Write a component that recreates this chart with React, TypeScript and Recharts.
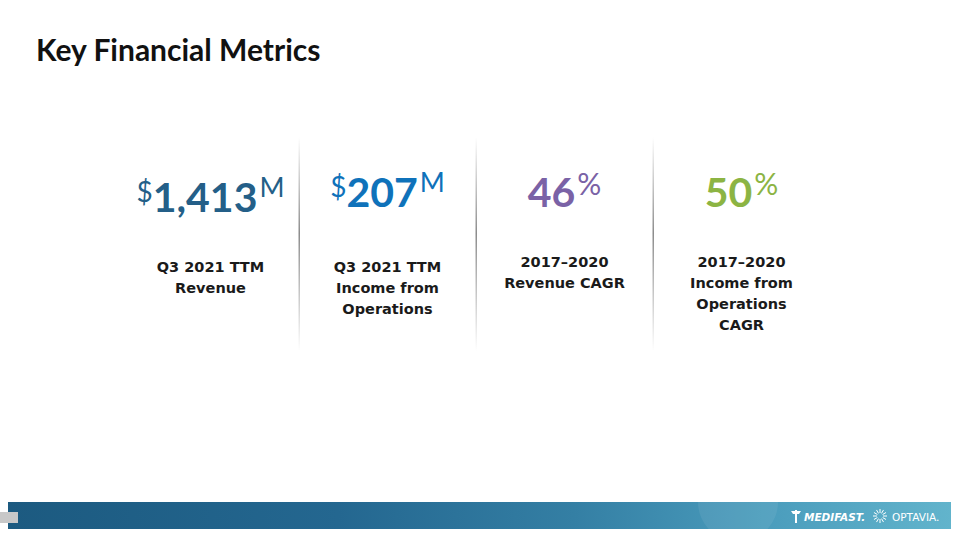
import { ComposedChart, Scatter, XAxis, YAxis } from "recharts";

// four KPI columns, left to right
const metricIds = [0, 1, 2, 3];
const metricValues = ["1,413", "207", "46", "50"];
const metricPrefixes = ["$", "$", "", ""];
const metricSuffixes = ["M", "M", "%", "%"];
const metricLabels = [
  ["Q3 2021 TTM", "Revenue"],
  ["Q3 2021 TTM", "Income from", "Operations"],
  ["2017–2020", "Revenue CAGR"],
  ["2017–2020", "Income from", "Operations", "CAGR"],
];
const metricColors = ["#245f88", "#0f72ba", "#7a62a6", "#8cb443"];

const data = metricIds.map((i) => ({
  idx: i,
  level: 1,
  value: metricValues[i],
  prefix: metricPrefixes[i],
  suffix: metricSuffixes[i],
  label: metricLabels[i],
  color: metricColors[i],
}));

const NUM_FONT = "Lato, 'Open Sans', sans-serif";
const LABEL_FONT = "'DejaVu Sans', sans-serif";

const MetricShape = (props: any) => {
  const { cx, cy, payload } = props;
  const i = payload.idx;
  const numBase = cy + (i === 0 ? 5 : 0);
  const labelBase = cy + (i < 2 ? 65 : 60);
  const isPct = payload.suffix === "%";
  return (
    <g>
      {i > 0 && (
        <g>
          <defs>
            <linearGradient id={`divider-${i}`} x1="0" y1="0" x2="0" y2="1">
              <stop offset="0%" stopColor="#ffffff" />
              <stop offset="45%" stopColor="#8c8c8c" />
              <stop offset="100%" stopColor="#ffffff" />
            </linearGradient>
          </defs>
          <rect x={cx - 89} y={cy - 70} width={1.5} height={214} fill={`url(#divider-${i})`} />
        </g>
      )}
      <text x={cx} y={numBase} textAnchor="middle" fill={payload.color} fontFamily={NUM_FONT}>
        {payload.prefix && (
          <tspan fontSize={28} fontWeight={400} dy={-10}>
            {payload.prefix}
          </tspan>
        )}
        <tspan fontSize={41} fontWeight={700} dy={payload.prefix ? 10 : 0}>
          {payload.value}
        </tspan>
        <tspan fontSize={isPct ? 30 : 27} fontWeight={400} dy={isPct ? -12 : -15} dx={2}>
          {payload.suffix}
        </tspan>
      </text>
      {payload.label.map((line: string, k: number) => (
        <text
          key={k}
          x={cx}
          y={labelBase + k * 21}
          textAnchor="middle"
          fill="#1a1a1a"
          fontFamily={LABEL_FONT}
          fontWeight={700}
          fontSize={14.5}
        >
          {line}
        </text>
      ))}
    </g>
  );
};

const App = () => {
  return (
    <div
      style={{
        position: "absolute",
        left: 0,
        top: 0,
        width: 960,
        height: 539,
        background: "#ffffff",
        overflow: "hidden",
      }}
    >
      <div
        style={{
          position: "absolute",
          left: 36,
          top: 34,
          fontFamily: NUM_FONT,
          fontWeight: 700,
          fontSize: 30,
          lineHeight: "30px",
          color: "#111111",
          whiteSpace: "nowrap",
        }}
      >
        Key Financial Metrics
      </div>

      <ComposedChart
        width={960}
        height={539}
        data={data}
        margin={{ top: 207, right: 130, left: 122, bottom: 100 }}
      >
        <XAxis type="number" dataKey="idx" domain={[-0.5, 3.5]} hide />
        <YAxis type="number" domain={[0, 1]} hide />
        <Scatter dataKey="level" shape={MetricShape} isAnimationActive={false} />
      </ComposedChart>

      {/* footer band */}
      <div
        style={{
          position: "absolute",
          left: 8,
          top: 502,
          width: 943,
          height: 27,
          background:
            "linear-gradient(90deg, #1c5a80 0%, #246790 35%, #347fa4 60%, #4a9cbc 80%, #62b4cc 100%)",
          overflow: "hidden",
        }}
      >
        <div
          style={{
            position: "absolute",
            left: 690,
            top: -40,
            width: 80,
            height: 80,
            borderRadius: "50%",
            background: "rgba(255,255,255,0.07)",
          }}
        />
        <svg width={943} height={27} style={{ position: "absolute", left: 0, top: 0 }}>
          {/* caduceus-ish mark */}
          <g fill="#ffffff" transform="translate(783,8)">
            <rect x={4} y={0} width={2} height={13} />
            <path d="M0 1 L10 1 L8 4 L2 4 Z" />
          </g>
          <text x={796} y={19} fill="#ffffff" fontFamily={LABEL_FONT} fontSize={10.5} fontWeight={700} fontStyle="italic">
            MEDIFAST.
          </text>
          {/* sun mark */}
          <g transform="translate(872,14)" stroke="#ffffff" strokeWidth={1}>
            {[0, 30, 60, 90, 120, 150, 180, 210, 240, 270, 300, 330].map((a) => (
              <line
                key={a}
                x1={Math.cos((a * Math.PI) / 180) * 3}
                y1={Math.sin((a * Math.PI) / 180) * 3}
                x2={Math.cos((a * Math.PI) / 180) * 7}
                y2={Math.sin((a * Math.PI) / 180) * 7}
              />
            ))}
          </g>
          <text x={884} y={19} fill="#ffffff" fontFamily={LABEL_FONT} fontSize={10.5}>
            OPTAVIA.
          </text>
        </svg>
      </div>
      <div
        style={{
          position: "absolute",
          left: 0,
          top: 512,
          width: 18,
          height: 11,
          background: "#c8c8c8",
        }}
      />
    </div>
  );
};

export default App;
